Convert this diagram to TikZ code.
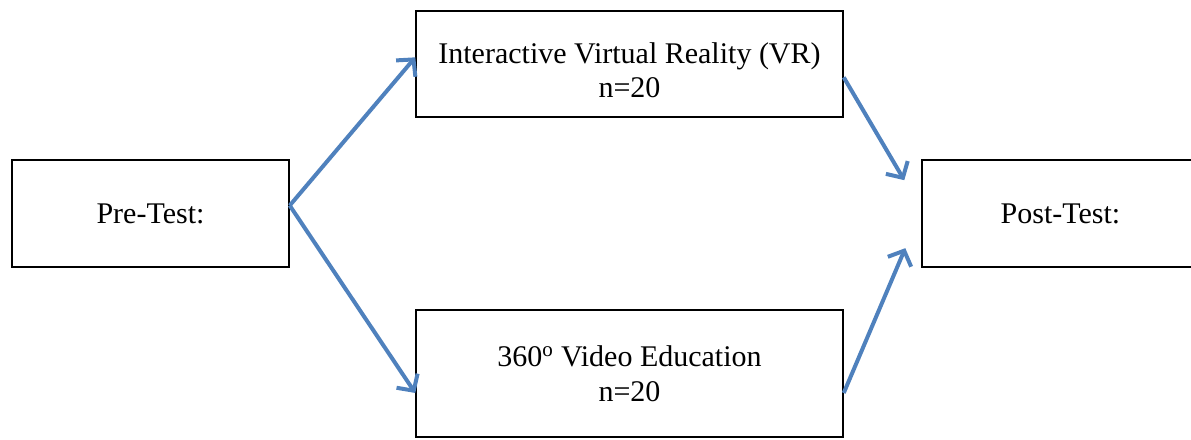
\documentclass[tikz,border=0pt]{standalone}
\usepackage{fontspec}
\setmainfont{Liberation Serif}
\usetikzlibrary{arrows.meta}

\definecolor{arrowblue}{RGB}{79,129,189}
\tikzset{every picture/.style={line width=0.75pt}}
\tikzset{
  groupbox/.style={draw=black, line width=1.1pt, fill=white, inner sep=0.75pt, align=center, font=\fontsize{22.5}{26}\selectfont},
  flowarrow/.style={draw=arrowblue, line width=3pt, -{Straight Barb[length=9pt,width=19pt,line width=3pt]}}
}

\begin{document}
\begin{tikzpicture}[x=0.75pt,y=0.75pt,yscale=-1,xscale=1]
\useasboundingbox (0,0) rectangle (1191,439);

% Boxes
\node [groupbox, minimum width=207.75pt, minimum height=80.25pt] (pre) at (150.5,213.5) {Pre-Test:};
\node [groupbox, minimum width=320.25pt, minimum height=79.5pt] (vr) at (629.5,64) {\rule{0pt}{25pt}Interactive Virtual Reality (VR)\\n=20};
\node [groupbox, minimum width=320.25pt, minimum height=95.25pt] (video) at (629.5,373.5) {360\textsuperscript{o} Video Education\\n=20};
\node [groupbox, minimum width=207.75pt, minimum height=80.25pt] (post) at (1060.5,213.5) {Post-Test:};

% Arrows
\draw [flowarrow] ([yshift=-6pt]pre.east) -- ([yshift=-5pt]vr.west);
\draw [flowarrow] ([yshift=-6pt]pre.east) -- ([yshift=14.6pt]video.west);
\draw [flowarrow] ([yshift=10pt]vr.east) -- ([xshift=-12.75pt,yshift=-25pt]post.west);
\draw [flowarrow] ([yshift=14.6pt]video.east) -- ([xshift=-12pt,yshift=26pt]post.west);

\end{tikzpicture}
\end{document}
